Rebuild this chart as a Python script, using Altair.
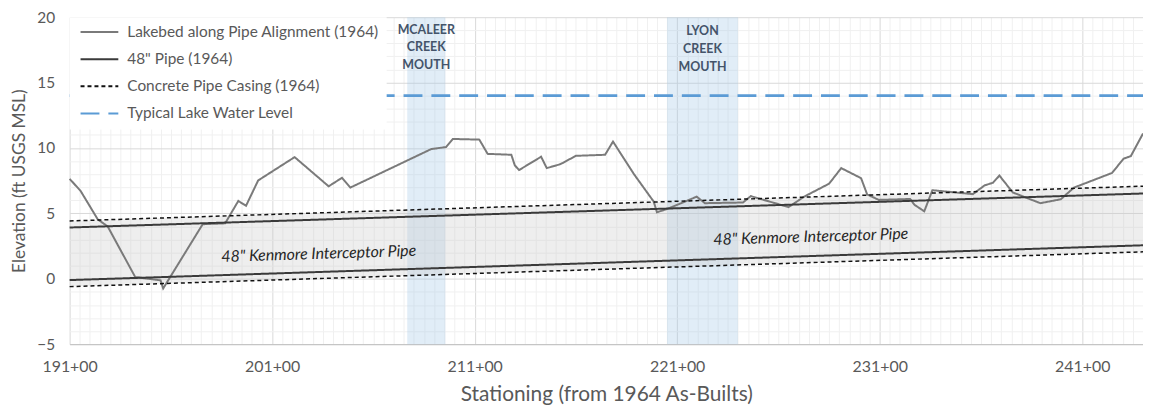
import altair as alt
import pandas as pd

# ---------------- data ----------------
lakebed_station = [191.0, 191.54, 192.39, 192.88, 194.24, 195.49, 195.62, 197.57, 198.68,
                   199.33, 199.71, 200.31, 202.11, 203.79, 204.45, 204.86, 208.86, 209.59,
                   209.92, 211.23, 211.64, 212.81, 212.98, 213.19, 214.28, 214.56, 215.23,
                   216.0, 217.44, 217.83, 218.86, 219.84, 220.0, 220.49, 221.47, 221.96,
                   222.37, 224.25, 224.63, 226.5, 227.27, 228.5, 229.1, 230.08, 230.38,
                   230.95, 232.5, 232.72, 233.2, 233.6, 235.6, 236.18, 236.59, 236.91,
                   237.57, 238.93, 239.94, 240.59, 242.47, 243.04, 243.4, 244.0]
lakebed_elev = [7.64, 6.72, 4.54, 4.0, 0.13, -0.12, -0.74, 4.17, 4.24,
                5.95, 5.58, 7.52, 9.3, 7.07, 7.72, 6.97, 9.92, 10.07,
                10.69, 10.64, 9.55, 9.48, 8.68, 8.31, 9.33, 8.46, 8.76,
                9.4, 9.48, 10.49, 8.01, 5.9, 5.09, 5.33, 5.95, 6.28,
                5.78, 5.83, 6.32, 5.48, 6.28, 7.27, 8.46, 7.69, 6.45,
                6.03, 6.1, 5.65, 5.16, 6.77, 6.47, 7.14, 7.34, 7.89,
                6.6, 5.78, 6.08, 6.97, 8.09, 9.18, 9.38, 11.1]

pipe_station = [191.0, 244.0]
pipe_top = [3.92, 6.52]
pipe_bottom = [-0.1, 2.56]
casing_top = [4.42, 7.08]
casing_bottom = [-0.6, 2.06]
water_station = [191.0, 244.0]
water_level = [14.0, 14.0]

series_names = ["Lakebed along Pipe Alignment (1964)", "48\" Pipe (1964)",
                "Concrete Pipe Casing (1964)", "Typical Lake Water Level"]

band_labels = ["MCALEER\nCREEK\nMOUTH", "LYON\nCREEK\nMOUTH"]
band_start = [207.67, 220.5]
band_end = [209.55, 224.0]
band_label_elev = [19.05, 18.95]

pipe_label_text = ["48\" Kenmore Interceptor Pipe", "48\" Kenmore Interceptor Pipe"]
pipe_label_station = [203.3, 227.6]
pipe_label_elev = [1.9, 3.2]

x_ticks = [191 + 0.5 * i for i in range(107)]
y_ticks = list(range(-5, 21))

# ---------------- tables ----------------
rows = []
for s, e in zip(lakebed_station, lakebed_elev):
    rows.append({"station": s, "elev": e, "series": series_names[0], "line": "lakebed"})
for s, t, b in zip(pipe_station, pipe_top, pipe_bottom):
    rows.append({"station": s, "elev": t, "series": series_names[1], "line": "pipe_top"})
    rows.append({"station": s, "elev": b, "series": series_names[1], "line": "pipe_bottom"})
for s, t, b in zip(pipe_station, casing_top, casing_bottom):
    rows.append({"station": s, "elev": t, "series": series_names[2], "line": "casing_top"})
    rows.append({"station": s, "elev": b, "series": series_names[2], "line": "casing_bottom"})
for s, w in zip(water_station, water_level):
    rows.append({"station": s, "elev": w, "series": series_names[3], "line": "water"})
lines_df = pd.DataFrame(rows)

fill_df = pd.DataFrame({"station": pipe_station, "lo": casing_bottom, "hi": casing_top})
band_df = pd.DataFrame({"label": band_labels, "start": band_start, "end": band_end,
                        "mid": [(a + b) / 2 for a, b in zip(band_start, band_end)],
                        "elev": band_label_elev})
pipe_lbl_df = pd.DataFrame({"text": pipe_label_text, "station": pipe_label_station,
                            "elev": pipe_label_elev})

FONT = "Lato"
PLOT_H = 329
x_scale = alt.Scale(domain=[191, 244], nice=False, zero=False)
y_scale = alt.Scale(domain=[-5, 20], nice=False, zero=False)

x_axis = alt.Axis(
    values=x_ticks, title="Stationing (from 1964 As-Builts)",
    labelExpr="(datum.value - 191) % 10 === 0 ? datum.value + '+00' : ''",
    grid=True,
    gridColor={"condition": {"test": "(datum.value - 191) % 10 === 0", "value": "#d9d9d9"},
               "value": "#f0f0f0"},
    ticks=False, domain=True, domainColor="#bfbfbf", domainWidth=1,
    labelFlush=False, labelOverlap=False, labelPadding=15,
    labelFont=FONT, labelFontSize=16, labelColor="#595959",
    titleFont=FONT, titleFontSize=21, titleColor="#595959", titleFontWeight="normal",
    titlePadding=9,
)
y_axis = alt.Axis(
    values=y_ticks, title="Elevation (ft USGS MSL)",
    labelExpr="datum.value % 5 === 0 ? datum.label : ''",
    grid=True,
    gridColor={"condition": {"test": "datum.value % 5 === 0", "value": "#d9d9d9"},
               "value": "#f0f0f0"},
    ticks=False, domain=False, labelOverlap=False, labelFlush=False, labelPadding=15,
    labelFont=FONT, labelFontSize=15.5, labelColor="#595959",
    titleFont=FONT, titleFontSize=17.5, titleColor="#595959", titleFontWeight="normal",
    titlePadding=8,
)

X = lambda f: alt.X(f, scale=x_scale, axis=x_axis)
Y = lambda f: alt.Y(f, scale=y_scale, axis=y_axis)

bands = alt.Chart(band_df).mark_rect(color="#9dc3e6", opacity=0.3).encode(
    x=X("start:Q"),
    x2="end:Q",
    y=alt.value(0),
    y2=alt.value(PLOT_H),
)

fill = alt.Chart(fill_df).mark_area(color="#c8c8c8", opacity=0.3).encode(
    x=X("station:Q"),
    y=Y("lo:Q"),
    y2="hi:Q",
)

legend = alt.Legend(
    title=None, orient="none", legendX=0, legendY=0,
    fillColor="white", padding=7, symbolOffset=3, symbolType="stroke", symbolSize=1444,
    symbolStrokeWidth=2, clipHeight=16, rowPadding=10.3, labelOffset=8,
    labelFont=FONT, labelFontSize=15.5, labelColor="#595959", labelLimit=400,
)
color_enc = alt.Color("series:N", scale=alt.Scale(domain=series_names,
                      range=["#7a7a7a", "#3a3a3a", "#111111", "#5b9bd5"]), legend=legend)
dash_enc = alt.StrokeDash("series:N", scale=alt.Scale(domain=series_names,
                          range=[[1, 0], [1, 0], [4, 3], [19, 9]]), legend=legend)

base = alt.Chart(lines_df).mark_line().encode(
    x=X("station:Q"),
    y=Y("elev:Q"),
    color=color_enc, strokeDash=dash_enc, detail="line:N",
)
widths = [2.0, 2.0, 1.5, 2.8]
line_layers = [
    base.transform_filter(alt.datum.series == name).mark_line(strokeWidth=w)
    for name, w in zip(series_names, widths)
]

band_text = alt.Chart(band_df).mark_text(
    font=FONT, fontSize=12.5, fontWeight="bold", color="#44546a",
    lineBreak="\n", lineHeight=18, align="center", baseline="middle",
).encode(
    x=X("mid:Q"),
    y=Y("elev:Q"),
    text="label:N",
)

pipe_text = alt.Chart(pipe_lbl_df).mark_text(
    font=FONT, fontSize=16, fontStyle="italic", color="#262626",
    angle=358.2, align="center", baseline="middle",
).encode(
    x=X("station:Q"),
    y=Y("elev:Q"),
    text="text:N",
)

chart = alt.layer(bands, fill, *line_layers, band_text, pipe_text).properties(
    width=1080, height=PLOT_H,
    padding={"left": 62, "top": 8, "right": 0, "bottom": 66},
    autosize=alt.AutoSizeParams(type="none"),
    background="white",
).configure_view(stroke=None)

chart.save("out.html", embed_options={"renderer": "svg", "actions": False})
